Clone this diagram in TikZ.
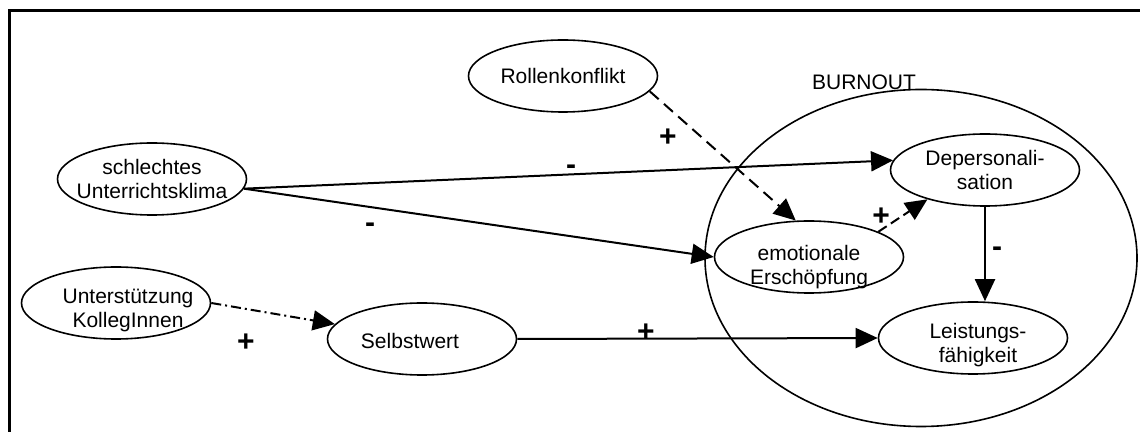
\documentclass[tikz,border=0pt]{standalone}
\usepackage{fontspec}
\setmainfont{Liberation Sans}
\usetikzlibrary{shapes.geometric,arrows.meta}

\begin{document}
\begin{tikzpicture}[x=0.5pt,y=-0.5pt,
    bubble/.style={draw,ellipse,line width=0.8pt,minimum width=94.5pt,minimum height=36pt,inner sep=0pt},
    txt/.style={align=center,font=\fontsize{10.5}{12}\selectfont,inner sep=0pt},
    sign/.style={font=\fontsize{15}{15}\selectfont\bfseries,inner sep=0pt},
    pfeil/.style={line width=1pt,-{Triangle[length=11pt,width=10pt]}}]
            \useasboundingbox (0,0) rectangle (1140,432);
            \clip (0,0) rectangle (1140,432);
            \draw[line width=1.5pt] (9,450) -- (9,11) -- (1160,11);

            \node[draw,ellipse,line width=0.8pt,minimum width=216pt,minimum height=168.5pt] (burnout) at (921,258) {};
            \node[txt] (burnlbl) at (864,82) {BURNOUT};

            \node[bubble,label={[txt]center:Rollenkonflikt}] (rollen) at (563,76) {};
            \node[bubble,label={[txt]center:{schlechtes\\Unterrichtsklima}}] (klima) at (152,179) {};
            \node[bubble,label={[txt,xshift=6pt,yshift=-3.5pt]center:{Unterstützung\\KollegInnen}}] (kollegen) at (116,303) {};
            \node[bubble,label={[txt,xshift=-6pt,yshift=-1pt]center:Selbstwert}] (selbst) at (422,339) {};
            \node[bubble,label={[txt]center:{Depersonali-\\sation}}] (depers) at (985,170) {};
            \node[bubble,label={[txt,yshift=-5pt]center:{emotionale\\Erschöpfung}}] (emot) at (809,257) {};
            \node[bubble,label={[txt,xshift=2.5pt,yshift=-3.5pt]center:{Leistungs-\\fähigkeit}}] (leist) at (973,338) {};

            \draw[pfeil] (klima.-6) -- (depers.174);
            \draw[pfeil] (klima.-6) -- (emot.west);
            \draw[pfeil,dash pattern=on 6pt off 3.5pt] (rollen.-10) -- (emot.110);
            \draw[pfeil,dash pattern=on 5pt off 2.5pt] (emot.20) -- (depers.207);
            \draw[pfeil] (depers.south) -- (depers.south |- leist.north);
            \draw[pfeil,dash pattern=on 5pt off 2pt on 1pt off 2pt] (kollegen.east) -- (selbst);
            \draw[pfeil] (selbst.east) -- (leist.west);

            %\draw (selbst) -- (emot);
            \node[sign] (m1) at (571,170) {-};
            \node[sign] (m2) at (370,228) {-};
            \node[sign] (m3) at (997,252) {-};
            \node[sign] (p1) at (668,138) {+};
            \node[sign] (p2) at (881,217) {+};
            \node[sign] (p3) at (646,333) {+};
            \node[sign] (p4) at (246,343) {+};
        \end{tikzpicture}
\end{document}
